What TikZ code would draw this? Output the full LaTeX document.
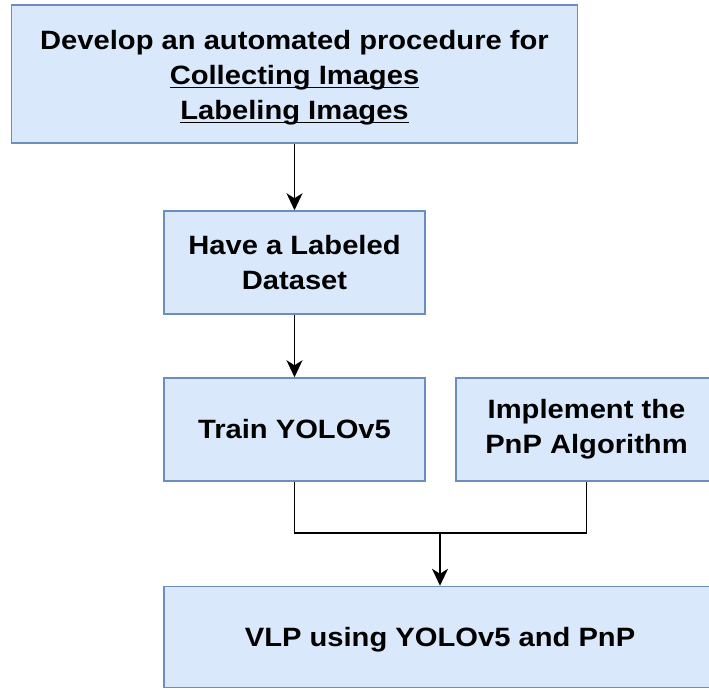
\documentclass[tikz,border=0pt]{standalone}
\usepackage{fontspec}
\setmainfont{Liberation Sans}
\newfontfamily\boxfont[FakeStretch=1.1]{Liberation Sans}
\usetikzlibrary{arrows.meta}
\definecolor{boxfill}{HTML}{DAE8FC}
\definecolor{boxline}{HTML}{6C8EBF}
% underline at a fixed depth, crossing the descenders
\newcommand\ulx[1]{\setbox0=\hbox{#1}\rlap{\rule[-3.5pt]{\wd0}{1.5pt}}\box0}
% invisible strut that lifts the top of a text block
\newcommand\toplift[1]{\rule{0pt}{#1}}
\begin{document}
\begin{tikzpicture}[x=1pt,y=-1pt,
  stepbox/.style={draw=boxline, fill=boxfill, line width=1.5pt, align=center,
    font=\boxfont\bfseries\fontsize{26.5}{35}\selectfont, inner sep=0pt,
    minimum width=261pt, minimum height=103pt},
  flow/.style={line width=1.5pt, -{Stealth[length=17pt,width=16pt,inset=5pt]}},
  link/.style={line width=1.5pt}]
\useasboundingbox (0,0) rectangle (709,689);
\clip (0,0) rectangle (709,689);
\node[stepbox, minimum width=566pt, minimum height=138pt] (dev) at (294.5,74)
  {\toplift{27pt}Develop an automated procedure for\\ \ulx{Collecting Images}\\ \ulx{Labeling Images}};
\node[stepbox] (data) at (294.5,262.5) {Have a Labeled\\Dataset};
\node[stepbox] (yolo) at (294.5,429.5) {Train YOLOv5};
\node[stepbox] (pnp) at (586.5,429.5) {Implement the\\PnP Algorithm};
\node[stepbox, minimum width=552pt, minimum height=101pt] (vlp) at (440,637)
  {\toplift{24pt}VLP using YOLOv5 and PnP};
\coordinate (join) at (440,533);
\draw[flow] (dev) -- (data);
\draw[flow] (data) -- (yolo);
\draw[link] (yolo.south) |- (join) -| (pnp.south);
\draw[flow] (join) -- (vlp);
\end{tikzpicture}
\end{document}
